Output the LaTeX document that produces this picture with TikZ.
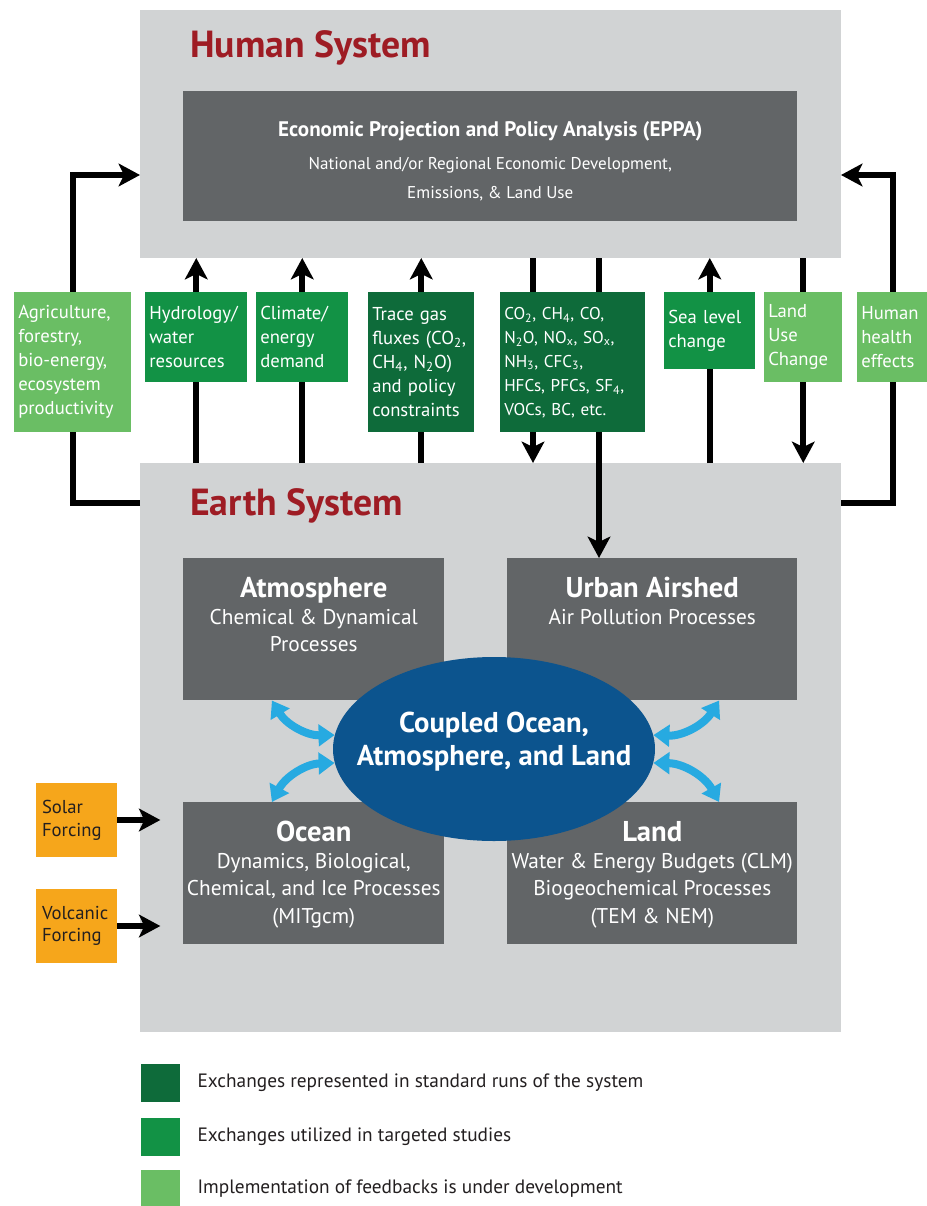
\documentclass[tikz,border=0pt]{standalone}
\usepackage{fontspec}
\setmainfont{PT Sans}
\usepackage{tikz}
\usetikzlibrary{arrows.meta,shapes,calc,positioning,fit}
\definecolor{panelGray}{RGB}{209,211,212}
\definecolor{boxGray}{RGB}{98,101,103}
\definecolor{greenDark}{RGB}{14,107,58}
\definecolor{greenMid}{RGB}{18,146,69}
\definecolor{greenLight}{RGB}{106,190,100}
\definecolor{titleRed}{RGB}{158,28,36}
\definecolor{oceanBlue}{RGB}{12,84,142}
\definecolor{linkBlue}{RGB}{39,170,225}
\definecolor{forcingOrange}{RGB}{246,166,27}
\definecolor{inkBlack}{RGB}{35,31,32}
\pgfdeclarelayer{back}
\pgfdeclarelayer{mid}
\pgfsetlayers{back,mid,main}
\tikzstyle{panel}=[fill=panelGray, inner sep=0pt, outer sep=0pt]
\tikzstyle{systitle}=[anchor=base west, inner sep=0pt, text=titleRed,
                      font=\bfseries\fontsize{28.3}{30}\selectfont]
\tikzstyle{model}=[fill=boxGray, text=white, anchor=north west,
                   inner sep=0pt, text height=29.25pt, text depth=77.25pt,
                   font=\fontsize{16}{20.5}\selectfont]
\tikzstyle{xchange}=[anchor=north west, text=white, align=left,
                     inner xsep=3pt, inner ysep=0pt,
                     font=\fontsize{14}{18}\selectfont]
\tikzstyle{forcing}=[fill=forcingOrange, text=inkBlack, align=left,
                     inner xsep=4.5pt, text width=51.75pt, minimum height=55.5pt,
                     font=\fontsize{14}{17}\selectfont]
\tikzstyle{hub}=[ellipse, fill=oceanBlue, text=white,
                 minimum width=241.5pt, minimum height=138pt,
                 font=\bfseries\fontsize{21.5}{25}\selectfont]
\tikzstyle{flow}=[-{Stealth[length=16pt,width=17pt,inset=4pt]},
                  line width=4.5pt, black]
\tikzstyle{link}=[{Triangle[length=12pt,width=16pt]}-{Triangle[length=12pt,width=16pt]},
                  line width=6pt, linkBlue]
\tikzstyle{legkey}=[minimum width=29.25pt, minimum height=28.5pt, inner sep=0pt]
\tikzstyle{legtext}=[anchor=west, inner sep=0pt, text=inkBlack,
                     font=\fontsize{14.5}{17}\selectfont]
\newcommand{\mdtitle}[1]{{\bfseries\fontsize{21.5}{24}\selectfont #1}}
\newcommand{\sub}[1]{\textsubscript{#1}}
\newcommand{\boxlines}[1]{\begin{tabular}[t]{@{}c@{}}#1\end{tabular}}
\newcommand{\hubtext}[1]{\makebox[0pt]{\raisebox{0pt}[0pt][0pt]{\begin{tabular}{@{}c@{}}#1\end{tabular}}}}

\begin{document}
\begin{tikzpicture}[x=0.75pt,y=-0.75pt]
    \useasboundingbox (0,0) rectangle (927,1206);

    \begin{pgfonlayer}{back}
        \node[panel, fit={(140,10) (841,258)}] (human) {};
        \node[panel, fit={(140,463) (841,1032)}] (earth) {};
    \end{pgfonlayer}

    \node[systitle] (humantitle) at (190,58) {Human System};
    \node[systitle] (earthtitle) at (190,515) {Earth System};

    \node[model, minimum width=460.5pt, text height=33.75pt, text depth=63.75pt,
          font=\fontsize{12.8}{22}\selectfont] (eppa) at (183,91)
        {\boxlines{{\bfseries\fontsize{15.8}{20}\selectfont Economic Projection and Policy Analysis (EPPA)}\\[2.75pt]
         National and/or Regional Economic Development,\\ Emissions, \& Land Use}};

    % exchanges between the two systems
    \node[xchange, fill=greenLight, text width=81.75pt, minimum height=105pt] (agri) at (14,292)
        {Agriculture,\\forestry,\\bio-energy,\\ecosystem\\productivity};
    \node[xchange, fill=greenMid, text width=70.5pt, minimum height=67.5pt] (hydro) at (145,292)
        {Hydrology/\\water\\resources};
    \node[xchange, fill=greenMid, text width=63pt, minimum height=67.5pt] (climate) at (256,292)
        {Climate/\\energy\\demand};
    \node[xchange, fill=greenDark, text width=73.5pt, minimum height=105pt] (trace) at (368,292)
        {Trace gas\\fluxes (CO\sub{2},\\CH\sub{4}, N\sub{2}O)\\and policy\\constraints};
    \node[xchange, fill=greenDark, text width=102.75pt, minimum height=105pt,
          font=\fontsize{12.8}{18}\selectfont] (emis) at (500,292)
        {CO\sub{2}, CH\sub{4}, CO,\\N\sub{2}O, NO\sub{x}, SO\sub{x},\\NH\sub{3}, CFC\sub{3},\\HFCs, PFCs, SF\sub{4},\\VOCs, BC, etc.};
    \node[xchange, fill=greenMid, text width=62.25pt, minimum height=57.75pt] (sea) at (664,292)
        {Sea level\\change};
    \node[xchange, fill=greenLight, text width=52.5pt, minimum height=67.5pt] (landuse) at (764,292)
        {Land\\Use\\Change};
    \node[xchange, fill=greenLight, text width=48pt, minimum height=67.5pt] (health) at (857,292)
        {Human\\health\\effects};
    \coordinate (e1) at ($(emis.north west)+(33,0)$);
    \coordinate (e2) at ($(emis.north west)+(99,0)$);

    % earth system components
    \node[model, minimum width=195.75pt] (atm) at (183,558)
        {\boxlines{\mdtitle{Atmosphere}\\Chemical \& Dynamical\\Processes}};
    \node[model, minimum width=217.5pt] (urban) at (507,558)
        {\boxlines{\mdtitle{Urban Airshed}\\Air Pollution Processes}};
    \node[model, minimum width=195.75pt] (ocean) at (183,802)
        {\boxlines{\mdtitle{Ocean}\\Dynamics, Biological,\\Chemical, and Ice Processes\\(MITgcm)}};
    \node[model, minimum width=217.5pt] (land) at (507,802)
        {\boxlines{\mdtitle{Land}\\Water \& Energy Budgets (CLM)\\Biogeochemical Processes\\(TEM \& NEM)}};

    \node[hub] (coupled) at (494,749) {\hubtext{Coupled Ocean,\\Atmosphere, and Land}};

    \draw[link] ($(atm.south west)!0.34!(atm.south east)$) to[bend right=30] (coupled.175);
    \draw[link] (coupled.185) to[bend right=30] ($(ocean.north west)!0.34!(ocean.north east)$);
    \draw[link] (coupled.5) to[bend right=30] ($(urban.south west)!0.73!(urban.south east)$);
    \draw[link] (coupled.355) to[bend left=30] ($(land.north west)!0.73!(land.north east)$);

    \node[forcing] (solar) at (76.5,820) {Solar\\Forcing};
    \node[forcing] (volcanic) at (76.5,926) {Volcanic\\Forcing};

    % legend
    \node[legkey, fill=greenDark] (key1) at (160.5,1083) {};
    \node[legkey, fill=greenMid] (key2) at (160.5,1136.5) {};
    \node[legkey, fill=greenLight] (key3) at (160.5,1189) {};
    \node[legtext, right=12.75pt of key1] (txt1) {Exchanges represented in standard runs of the system};
    \node[legtext, right=12.75pt of key2] (txt2) {Exchanges utilized in targeted studies};
    \node[legtext, right=12.75pt of key3] (txt3) {Implementation of feedbacks is under development};

    \begin{pgfonlayer}{mid}
        \draw[flow] ($(earth.north west)+(0,40)$) -| (agri.center) |- ($(human.north west)+(0,165)$);
        \draw[flow] ($(earth.north east)+(0,40)$) -| (health.center) |- ($(human.north east)+(0,165)$);
        \foreach \b in {hydro,climate,trace,sea}
            \draw[flow] (\b.center |- earth.north) -- (\b.center |- human.south);
        \draw[flow] (e1 |- human.south) -- (e1 |- earth.north);
        \draw[flow] (e2 |- human.south) -- (e2 |- urban.north);
        \draw[flow] (landuse.center |- human.south) -- (landuse.center |- earth.north);
        \draw[flow, shorten >=17pt] (solar.east) -- (solar.east -| ocean.west);
        \draw[flow, shorten >=17pt] (volcanic.east) -- (volcanic.east -| ocean.west);
    \end{pgfonlayer}

\end{tikzpicture}
\end{document}
